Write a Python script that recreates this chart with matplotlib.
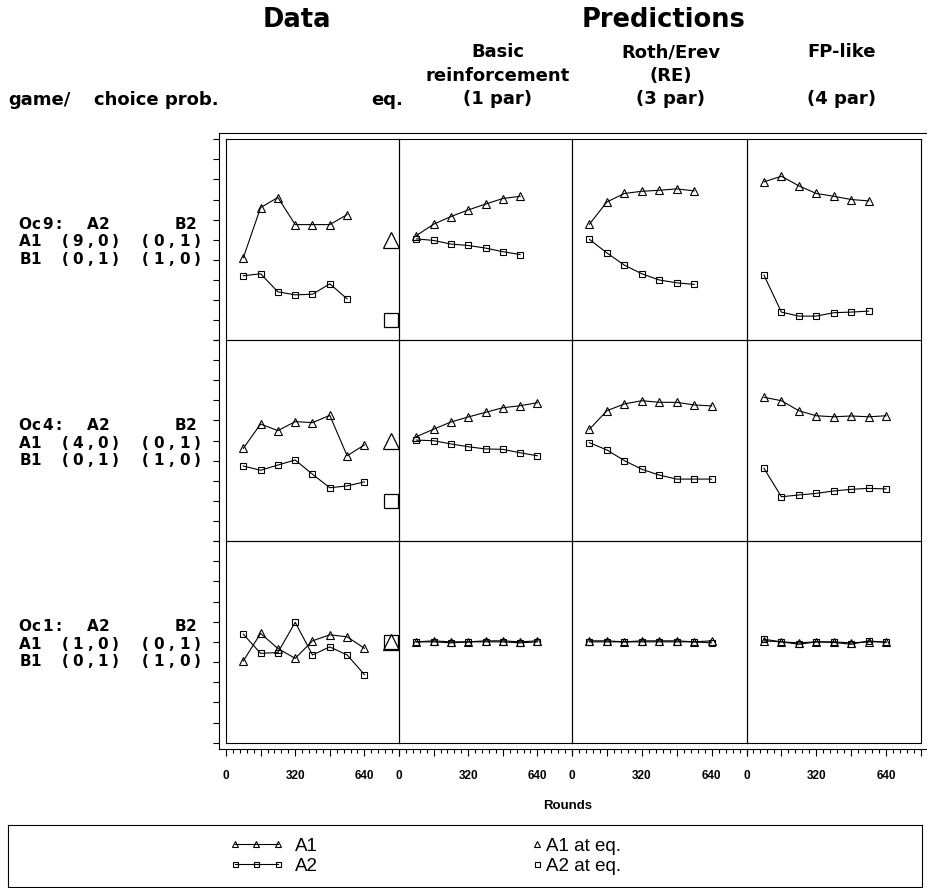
import numpy as np
import matplotlib.pyplot as plt
from matplotlib.lines import Line2D
from matplotlib.legend_handler import HandlerLine2D
from matplotlib.ticker import MultipleLocator

# ---------------------------------------------------------------------------
# Values: choice probabilities per block of 80 rounds
# ---------------------------------------------------------------------------
rounds = [80, 160, 240, 320, 400, 480, 560, 640]

games = ["Oc9", "Oc4", "Oc1"]
oc9_payoffs = ["(9,0)", "(0,1)", "(0,1)", "(1,0)"]
oc4_payoffs = ["(4,0)", "(0,1)", "(0,1)", "(1,0)"]
oc1_payoffs = ["(1,0)", "(0,1)", "(0,1)", "(1,0)"]

# Oc9 (7 blocks)
oc9_data_a1 = [0.41, 0.66, 0.71, 0.575, 0.575, 0.575, 0.625]
oc9_data_a2 = [0.32, 0.33, 0.24, 0.225, 0.228, 0.28, 0.205]
oc9_basic_a1 = [0.52, 0.577, 0.615, 0.648, 0.677, 0.705, 0.716]
oc9_basic_a2 = [0.504, 0.496, 0.478, 0.471, 0.458, 0.44, 0.426]
oc9_re_a1 = [0.577, 0.688, 0.73, 0.741, 0.746, 0.753, 0.743]
oc9_re_a2 = [0.501, 0.434, 0.373, 0.33, 0.299, 0.285, 0.277]
oc9_fp_a1 = [0.788, 0.816, 0.768, 0.73, 0.716, 0.70, 0.693]
oc9_fp_a2 = [0.323, 0.139, 0.119, 0.119, 0.136, 0.139, 0.144]

# Oc4 (8 blocks)
oc4_data_a1 = [0.461, 0.582, 0.549, 0.594, 0.589, 0.625, 0.424, 0.478]
oc4_data_a2 = [0.373, 0.352, 0.378, 0.403, 0.332, 0.265, 0.274, 0.294]
oc4_basic_a1 = [0.519, 0.556, 0.592, 0.617, 0.64, 0.663, 0.673, 0.688]
oc4_basic_a2 = [0.502, 0.499, 0.483, 0.469, 0.458, 0.456, 0.439, 0.424]
oc4_re_a1 = [0.556, 0.648, 0.682, 0.698, 0.69, 0.69, 0.677, 0.672]
oc4_re_a2 = [0.489, 0.453, 0.40, 0.357, 0.328, 0.308, 0.308, 0.308]
oc4_fp_a1 = [0.715, 0.698, 0.648, 0.623, 0.618, 0.622, 0.618, 0.623]
oc4_fp_a2 = [0.362, 0.22, 0.229, 0.237, 0.249, 0.257, 0.262, 0.259]

# Oc1 (8 blocks)
oc1_data_a1 = [0.405, 0.542, 0.467, 0.418, 0.505, 0.535, 0.525, 0.468]
oc1_data_a2 = [0.538, 0.443, 0.447, 0.597, 0.435, 0.475, 0.435, 0.338]
oc1_basic_a1 = [0.50, 0.505, 0.50, 0.50, 0.505, 0.505, 0.50, 0.505]
oc1_basic_a2 = [0.50, 0.50, 0.495, 0.50, 0.50, 0.50, 0.495, 0.50]
oc1_re_a1 = [0.505, 0.505, 0.50, 0.505, 0.505, 0.505, 0.50, 0.505]
oc1_re_a2 = [0.50, 0.50, 0.50, 0.50, 0.50, 0.50, 0.50, 0.495]
oc1_fp_a1 = [0.505, 0.50, 0.495, 0.50, 0.50, 0.495, 0.50, 0.50]
oc1_fp_a2 = [0.513, 0.50, 0.488, 0.50, 0.497, 0.488, 0.505, 0.497]

# equilibrium predictions
eq_a1 = [0.5, 0.5, 0.5]
eq_a2 = [0.1, 0.2, 0.5]

model_titles = [["Basic", "reinforcement", "(1 par)"],
                ["Roth/Erev", "(RE)", "(3 par)"],
                ["FP-like", "", "(4 par)"]]

series = [
    [(oc9_data_a1, oc9_data_a2), (oc9_basic_a1, oc9_basic_a2),
     (oc9_re_a1, oc9_re_a2), (oc9_fp_a1, oc9_fp_a2)],
    [(oc4_data_a1, oc4_data_a2), (oc4_basic_a1, oc4_basic_a2),
     (oc4_re_a1, oc4_re_a2), (oc4_fp_a1, oc4_fp_a2)],
    [(oc1_data_a1, oc1_data_a2), (oc1_basic_a1, oc1_basic_a2),
     (oc1_re_a1, oc1_re_a2), (oc1_fp_a1, oc1_fp_a2)],
]
payoffs = [oc9_payoffs, oc4_payoffs, oc1_payoffs]

# ---------------------------------------------------------------------------
# Layout (pixels of the 928x888 canvas)
# ---------------------------------------------------------------------------
W, H = 928, 888
plt.rcParams["font.family"] = ["DejaVu Sans"]
fig = plt.figure(figsize=(W / 100, H / 100), dpi=100)


def fx(px):
    return px / W


def fy(py):
    return 1 - py / H


def box(x0, y0, x1, y1):
    return [fx(x0), fy(y1), (x1 - x0) / W, (y1 - y0) / H]


col_edges = [226, 399, 572, 746.5, 921]
row_edges = [139.3, 340, 541, 742.7]
eq_x = 765          # rounds position of the equilibrium markers in the Data panel
lw = 0.8

# outer frame carrying the shared axes lines
frame = fig.add_axes(box(219, 132.7, 926.5, 749.3))
frame.set_xticks([])
frame.set_yticks([])
frame.patch.set_alpha(0)
for sp in frame.spines.values():
    sp.set_linewidth(lw)
frame.spines["right"].set_visible(False)

for r in range(3):
    for c in range(4):
        ax = fig.add_axes(box(col_edges[c], row_edges[r],
                              col_edges[c + 1], row_edges[r + 1]))
        ax.set_xlim(0, 800)
        ax.set_ylim(0, 1)
        ax.set_xticks([])
        ax.set_yticks([])
        ax.patch.set_alpha(0)
        for sp in ax.spines.values():
            sp.set_linewidth(lw)

        a1, a2 = series[r][c]
        ax.plot(rounds[:len(a1)], a1, color="black", lw=0.8, marker="^",
                ms=5.2, mfc="none", mec="black", mew=0.8)
        ax.plot(rounds[:len(a2)], a2, color="black", lw=0.8, marker="s",
                ms=4.6, mfc="none", mec="black", mew=0.8)

        if c == 0:
            ax.plot([eq_x], [eq_a1[r]], marker="^", ms=11, mfc="none",
                    mec="black", mew=0.9, ls="none")
            ax.plot([eq_x], [eq_a2[r]], marker="s", ms=10.5, mfc="none",
                    mec="black", mew=0.9, ls="none")
            off = (219 - col_edges[0]) / (col_edges[1] - col_edges[0])
            sec = ax.secondary_yaxis(off)
            sec.set_yticks(np.arange(0, 1.01, 0.1))
            sec.tick_params(length=4.3, width=lw, direction="out",
                            labelleft=False, labelright=False)
            for sp in sec.spines.values():
                sp.set_visible(False)

        if r == 2:
            off = (742.7 - 749.3) / (row_edges[3] - row_edges[2])
            secx = ax.secondary_xaxis(off)
            secx.set_xticks([0, 160, 320, 480, 640, 800],
                            labels=["0", "", "320", "", "640", ""],
                            fontweight="bold", family="Liberation Sans")
            secx.xaxis.set_minor_locator(MultipleLocator(32))
            secx.tick_params(which="major", length=5, width=lw,
                             direction="out", labelsize=8.5, pad=10)
            secx.tick_params(which="minor", length=2.8, width=lw,
                             direction="out")
            for sp in secx.spines.values():
                sp.set_visible(False)

# ---------------------------------------------------------------------------
# Headers
# ---------------------------------------------------------------------------
fig.text(fx(296.5), fy(26.7), "Data", ha="center", va="baseline",
         fontsize=18.5, fontweight="bold")
fig.text(fx(664), fy(26.7), "Predictions", ha="center", va="baseline",
         fontsize=18.5, fontweight="bold")

sub_x = [498, 671, 842]
sub_base = [57.3, 81, 104.5]
for xc, lines in zip(sub_x, model_titles):
    for yb, s in zip(sub_base, lines):
        fig.text(fx(xc), fy(yb), s, ha="center", va="baseline",
                 fontsize=13, fontweight="bold")

fig.text(fx(8.3), fy(105), "game/", ha="left", va="baseline",
         fontsize=13, fontweight="bold")
fig.text(fx(94.3), fy(105), "choice prob.", ha="left", va="baseline",
         fontsize=13, fontweight="bold")
fig.text(fx(371), fy(105), "eq.", ha="left", va="baseline",
         fontsize=13, fontweight="bold")


# game matrices, letter-spaced like the original typewriter layout
def spaced_text(x0, yb, s, pitch):
    for i, ch in enumerate(s):
        fig.text(fx(x0 + i * pitch), fy(yb), ch, ha="center", va="baseline",
                 fontsize=11, fontweight="bold")


for r, game in enumerate(games):
    base = 228.5 + r * 201.2
    p = payoffs[r]
    spaced_text(25, base, game + ":", 11.2)
    spaced_text(92.3, base, "A2", 11.8)
    spaced_text(180.8, base, "B2", 10)
    spaced_text(25, base + 18, "A1", 10.8)
    spaced_text(65, base + 18, p[0], 12.5)
    spaced_text(145.5, base + 18, p[1], 13)
    spaced_text(25, base + 35, "B1", 10.8)
    spaced_text(65, base + 35, p[2], 12.5)
    spaced_text(145.5, base + 35, p[3], 13)

fig.text(fx(568), fy(806), "Rounds", ha="center", va="center",
         fontsize=9.5, fontweight="bold", family="Liberation Sans")

# ---------------------------------------------------------------------------
# Legend box
# ---------------------------------------------------------------------------
leg_ax = fig.add_axes(box(8.3, 825, 922, 887))
leg_ax.set_xticks([])
leg_ax.set_yticks([])
for sp in leg_ax.spines.values():
    sp.set_linewidth(lw)

h_a1 = Line2D([], [], color="black", lw=0.8, marker="^", ms=4, mfc="none",
              mec="black", mew=0.8, label="A1")
h_a2 = Line2D([], [], color="black", lw=0.8, marker="s", ms=3.6, mfc="none",
              mec="black", mew=0.8, label="A2")
h_e1 = Line2D([], [], ls="none", marker="^", ms=4, mfc="none", mec="black",
              mew=0.8, label="A1 at eq.")
h_e2 = Line2D([], [], ls="none", marker="s", ms=3.6, mfc="none", mec="black",
              mew=0.8, label="A2 at eq.")

leg_props = {"family": "Liberation Sans", "size": 13.5}
leg1 = leg_ax.legend(handles=[h_a1, h_a2], loc="center left",
                     bbox_to_anchor=((229.3 - 8.3) / 913.7, 0.5),
                     frameon=False, numpoints=3, handlelength=2.9,
                     handletextpad=0.6, labelspacing=0.15, borderpad=0,
                     borderaxespad=0, prop=leg_props)
leg_ax.add_artist(leg1)
leg_ax.legend(handles=[h_e1, h_e2], loc="center left",
              bbox_to_anchor=((531.4 - 8.3) / 913.7, 0.5),
              handler_map={h_e1: HandlerLine2D(numpoints=1),
                           h_e2: HandlerLine2D(numpoints=1)},
              frameon=False, handlelength=0.6, handletextpad=0.18,
              labelspacing=0.15, borderpad=0, borderaxespad=0,
              prop=leg_props)

fig.savefig("out.png", dpi=100)
